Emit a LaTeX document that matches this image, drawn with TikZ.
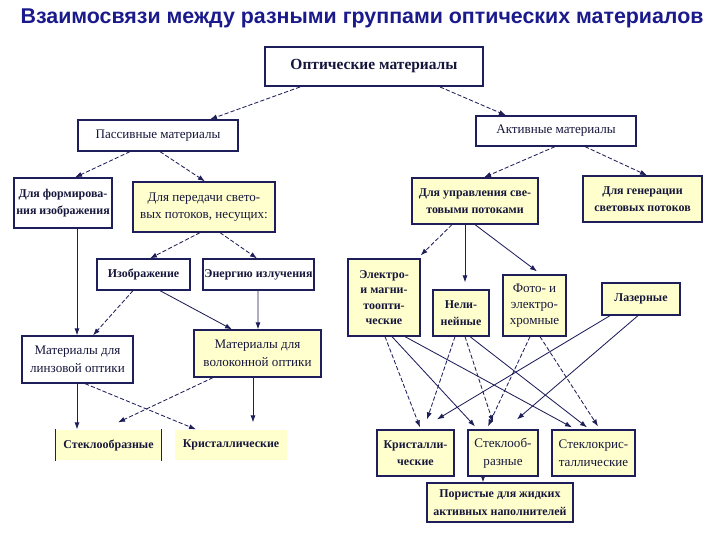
\documentclass[tikz,border=0pt]{standalone}
\usepackage{fontspec}
\setmainfont{Liberation Serif}
\setsansfont{Liberation Sans}
\usepackage{tikz}
\usetikzlibrary{arrows.meta, calc}
\definecolor{titleblue}{RGB}{26,26,140}
\definecolor{linknavy}{RGB}{30,30,90}
\definecolor{boxyellow}{RGB}{255,255,206}
\definecolor{textnavy}{RGB}{22,22,60}

\begin{document}
\begin{tikzpicture}[x=0.025cm, y=-0.025cm,
    sz/.style 2 args={minimum width=#1*0.025cm, minimum height=#2*0.025cm},
    box/.style={rectangle, draw=linknavy, line width=0.9pt, fill=white, text=textnavy, align=center, inner sep=1pt, font=\fontsize{9.3}{12.5}\selectfont},
    ybox/.style={box, fill=boxyellow},
    bbox/.style={box, font=\fontsize{8.5}{12.5}\selectfont\bfseries},
    ybbox/.style={ybox, font=\fontsize{8.5}{12.5}\selectfont\bfseries},
    link/.style={-{Latex[length=5pt,width=3.6pt]}, linknavy, line width=0.6pt, dash pattern=on 3pt off 1.5pt},
    plainlink/.style={-{Latex[length=5pt,width=3.6pt]}, linknavy, line width=0.6pt}]
    \fill[white] (0,0) rectangle (720,540);
    \useasboundingbox (0,0) rectangle (720,540);

    % title
    \node[font=\sffamily\bfseries\fontsize{15.2}{18}\selectfont, text=titleblue] (title) at (362,18) {Взаимосвязи между разными группами оптических материалов};

    % top levels
    \node[bbox, sz={218}{39}, line width=1.4pt, font=\fontsize{11}{13}\selectfont\bfseries] (opt) at (374,66.5) {Оптические материалы};
    \node[box, sz={160}{31}] (pass) at (158,135.5) {Пассивные материалы};
    \node[box, sz={160}{30}] (act) at (556,131) {Активные материалы};

    % passive branch
    \node[bbox, sz={98}{50}] (form) at (63,203) {Для формирова-\\ния изображения};
    \node[ybox, sz={142}{50}] (pered) at (204,207) {Для передачи свето-\\вых потоков, несущих:};
    \node[bbox, sz={93}{31}] (izo) at (143.5,274.5) {Изображение};
    \node[bbox, sz={111}{31}] (energ) at (258.5,274.5) {Энергию излучения};
    \node[box, sz={111}{47}] (linz) at (77.5,359.5) {Материалы для\\линзовой оптики};
    \node[ybox, sz={127}{47}] (volok) at (257.5,353.5) {Материалы для\\волоконной оптики};
    \node[ybbox, sz={105}{30}, draw=none] (steklo) at (108.5,445) {Стеклообразные};
    \draw[linknavy, line width=1pt] (steklo.north west) -- (steklo.south west) (steklo.north east) -- (steklo.south east);
    \node[ybbox, sz={112}{30}, draw=none] (krist) at (231,445) {Кристаллические};

    % active branch
    \node[ybbox, sz={126}{46}] (upr) at (475,201) {Для управления све-\\товыми потоками};
    \node[ybbox, sz={119}{46}] (gen) at (642.5,199) {Для генерации\\световых потоков};
    \node[ybbox, sz={72}{77}, font=\fontsize{8.5}{11}\selectfont\bfseries] (elek) at (384,297.5) {Электро-\\и магни-\\тоопти-\\ческие};
    \node[ybbox, sz={56}{46}] (neli) at (461,313) {Нели-\\нейные};
    \node[ybox, sz={63}{61}, font=\fontsize{9.3}{11.5}\selectfont] (foto) at (534.5,305.5) {Фото- и\\электро-\\хромные};
    \node[ybbox, sz={78}{32}] (laz) at (641,299) {Лазерные};
    \node[ybbox, sz={77}{46}] (krist2) at (415.5,453) {Кристалли-\\ческие};
    \node[ybox, sz={70}{46}] (steklo2) at (503,453) {Стеклооб-\\разные};
    \node[ybox, sz={83}{46}] (stkr) at (593.5,453) {Стеклокрис-\\таллические};
    \node[ybbox, sz={146}{39}] (por) at (500,502.5) {Пористые для жидких\\активных наполнителей};

    % connectors, top
    \draw[link] ($(opt.south)+(-74,0)$) -- ($(pass.north)+(52,0)$);
    \draw[link] ($(opt.south)+(66,0)$) -- ($(act.north)+(-50,0)$);
    \draw[link] ($(pass.south)+(-28,0)$) -- ($(form.north)+(12,0)$);
    \draw[link] ($(pass.south)+(2,0)$) -- ($(pered.north)+(1,0)$);
    \draw[link] ($(act.south)+(-1,0)$) -- ($(upr.north)+(9,0)$);
    \draw[link] ($(act.south)+(29,0)$) -- ($(gen.north)+(4.5,0)$);

    % connectors, passive
    \draw[plainlink] ($(form.south)+(14,0)$) -- ($(linz.north)+(-0.5,0)$);
    \draw[link] ($(pered.south)+(-4,0)$) -- ($(izo.north)+(6.5,0)$);
    \draw[link] ($(pered.south)+(16,0)$) -- ($(energ.north)+(-1.5,0)$);
    \draw[link] ($(izo.south)+(-10.5,0)$) -- ($(linz.north)+(15.5,0)$);
    \draw[plainlink] ($(izo.south)+(16.5,0)$) -- ($(volok.north)+(-25.5,0)$);
    \draw[plainlink] ($(energ.south)+(-0.5,0)$) -- ($(volok.north)+(0.5,0)$);
    \draw[plainlink] ($(linz.south)+(-0.5,0)$) -- ($(steklo.north)+(-31.5,0)$);
    \draw[link] ($(linz.south)+(7.5,0)$) -- ($(krist.north)+(-35,0)$);
    \draw[link] ($(volok.south)+(-44.5,0)$) -- ($(steklo.north)+(9.5,-7)$);
    \draw[plainlink] ($(volok.south)+(-4.5,0)$) -- ($(krist.north)+(22,-7)$);

    % connectors, active
    \draw[link] ($(upr.south)+(-23,0)$) -- ($(elek.north east)+(0,-3)$);
    \draw[plainlink] ($(upr.south)+(-10,0)$) -- ($(neli.north)+(4,-7)$);
    \draw[plainlink] ($(upr.south)+(0,0)$) -- ($(foto.north)+(2.5,-3)$);
    \draw[link] ($(elek.south)+(1,0)$) -- ($(krist2.north)+(4.5,-2)$);
    \draw[plainlink] ($(elek.south)+(8,0)$) -- ($(steklo2.north)+(-28,-3)$);
    \draw[plainlink] ($(elek.south)+(21,0)$) -- ($(stkr.north)+(-21.5,-2)$);
    \draw[link] ($(neli.south)+(-6,0)$) -- ($(krist2.north)+(11.5,-10)$);
    \draw[link] ($(neli.south)+(4,0)$) -- ($(steklo2.north)+(-10,-7)$);
    \draw[plainlink] ($(neli.south)+(9,0)$) -- ($(stkr.north)+(-6.5,-2)$);
    \draw[link] ($(foto.south)+(-4.5,0)$) -- ($(steklo2.north)+(-15,-3)$);
    \draw[link] ($(foto.south)+(5.5,0)$) -- ($(stkr.north)+(4.5,-3)$);
    \draw[plainlink] ($(laz.south)+(-31,0)$) -- ($(krist2.north)+(21.5,-10)$);
    \draw[plainlink] ($(laz.south)+(-3,0)$) -- ($(steklo2.north)+(14,-10)$);
    \draw[plainlink] ($(steklo2.south)+(-20,0)$) -- ($(por.north)+(-17,0)$);
\end{tikzpicture}
\end{document}
